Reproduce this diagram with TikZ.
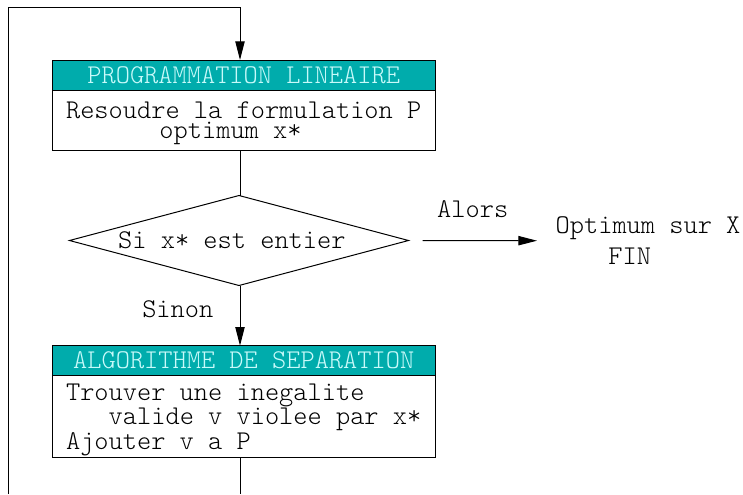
\documentclass[tikz,border=0pt]{standalone}
\usepackage{fontspec}
\setmonofont{Latin Modern Mono Light}
\usepackage{xcolor}
\usetikzlibrary{shapes.geometric, arrows.meta, positioning}

\definecolor{headteal}{RGB}{0,172,172}
\definecolor{headtext}{RGB}{200,250,250}

\begin{document}
\begin{tikzpicture}[
    x=0.75pt, y=-0.75pt,        % one unit = one pixel of the sketch
    line width=0.75pt,
    >={Triangle[length=14pt, width=7pt]},
    every node/.style={font=\ttfamily\fontsize{20.3}{15}\selectfont, inner sep=0pt, outer sep=0pt},
    headbox/.style={draw, fill=headteal, text=headtext, minimum width=287.5pt, minimum height=22.5pt},
    bodybox/.style={draw, fill=white, align=left, minimum width=287.5pt, text depth=-3pt},
    testbox/.style={draw, diamond, aspect=3.76, minimum width=254.25pt, minimum height=67.5pt},
    edgelab/.style={font=\ttfamily\fontsize{20.3}{15}\selectfont},
]
\useasboundingbox (0,0) rectangle (743,494);

% -------------------------------------------------
% Boxes
% -------------------------------------------------
\node[headbox] (lpHead) at (243.7,75) {PROGRAMMATION LINEAIRE};
\node[bodybox, minimum height=45pt, below=0pt of lpHead, text depth=-7pt,
      font=\ttfamily\fontsize{20.3}{14.8}\selectfont] (lpBody)
    {Resoudre la formulation P\\\hspace*{3.45em}optimum x*};

\node[testbox] (test) at (239,240.5) {Si x* est entier\hspace*{0.525em}};

\node[anchor=west, inner xsep=14pt, align=left,
      font=\ttfamily\fontsize{20.3}{23.8}\selectfont] (fin) at (537,240.7)
    {Optimum sur X\\\hspace*{1.95em}FIN};

\node[headbox] (sepHead) at (243.7,360.7) {ALGORITHME DE SEPARATION};
\node[bodybox, minimum height=61.5pt, below=0pt of sepHead,
      font=\ttfamily\fontsize{20.3}{16.9}\selectfont] (sepBody)
    {Trouver une inegalite\\\hspace*{1.575em}valide v violee par x*\\Ajouter v a P};

% loop ends, cut by the border of the sketch
\coordinate (loopBR) at (240,494);
\coordinate (loopBL) at (8,494);
\coordinate (loopTop) at (240,7.3);

% -------------------------------------------------
% Connectors
% -------------------------------------------------
\draw (loopTop |- lpBody.south) -- (loopTop |- test.north);
\draw[->, shorten <=10.5pt] (test.east) -- node[edgelab, above=17pt] {Alors} (fin.west);
\draw[->] (loopTop |- test.south) -- node[edgelab, pos=0.4, left=20pt] {Sinon} (loopTop |- sepHead.north);
\draw (loopBR |- sepBody.south) -- (loopBR);
\draw[->] (loopBL) |- (loopTop) -- (loopTop |- lpHead.north);

\end{tikzpicture}
\end{document}
